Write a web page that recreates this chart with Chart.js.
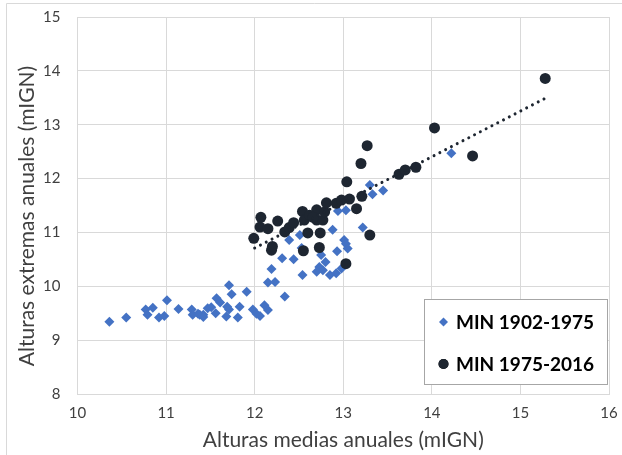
<!DOCTYPE html>
<html>
<head>
<meta charset="utf-8">
<script src="https://cdn.jsdelivr.net/npm/chart.js@4.4.0/dist/chart.umd.min.js"></script>
<style>
  html, body { margin: 0; padding: 0; background: #fff; }
  #wrap { position: relative; width: 622px; height: 455px; }
</style>
</head>
<body>
<div id="wrap"><canvas id="scatterChart"></canvas></div>
<script>
// MIN 1902-1975 (blue diamonds)
const oldX = [10.36, 10.55, 10.77, 10.85, 10.79, 10.92, 10.98, 11.01, 11.14, 11.29,
  11.30, 11.38, 11.42, 11.36, 11.47, 11.51, 11.56, 11.57, 11.61, 11.68,
  11.71, 11.71, 11.74, 11.81, 11.83, 11.91, 11.98, 12.02, 12.06, 12.11,
  12.15, 12.15, 12.19, 12.23, 12.31, 12.34, 12.39, 12.44, 12.51, 12.53,
  12.54, 12.73, 12.70, 12.77, 12.75, 12.80, 12.85, 12.92, 12.93, 12.88,
  12.94, 12.98, 13.01, 13.03, 13.05, 13.03, 13.22, 13.30, 13.33, 13.45,
  14.22, 11.42, 11.69];
const oldY = [9.34, 9.42, 9.57, 9.60, 9.47, 9.42, 9.45, 9.74, 9.58, 9.57,
  9.47, 9.47, 9.47, 9.49, 9.59, 9.61, 9.50, 9.78, 9.70, 9.44,
  9.57, 10.02, 9.85, 9.42, 9.62, 9.90, 9.57, 9.49, 9.45, 9.65,
  9.56, 10.07, 10.32, 10.08, 10.52, 9.81, 10.86, 10.50, 10.95, 10.71,
  10.21, 10.36, 10.27, 10.30, 10.58, 10.45, 10.21, 10.24, 10.65, 11.05,
  11.40, 10.33, 10.86, 10.79, 10.70, 11.41, 11.09, 11.88, 11.71, 11.78,
  12.47, 9.43, 9.62];

// MIN 1975-2016 (dark circles)
const newX = [11.99, 12.06, 12.07, 12.15, 12.19, 12.20, 12.26, 12.34, 12.39, 12.44,
  12.54, 12.56, 12.62, 12.60, 12.55, 12.70, 12.70, 12.77, 12.79, 12.81,
  12.74, 12.73, 12.92, 12.98, 13.04, 13.07, 13.15, 13.21, 13.20, 13.27,
  13.30, 13.03, 13.63, 13.70, 13.82, 14.03, 14.46, 15.28, 12.66];
const newY = [10.89, 11.10, 11.28, 11.07, 10.67, 10.74, 11.21, 11.01, 11.09, 11.18,
  11.39, 11.23, 11.32, 10.99, 10.66, 11.42, 11.23, 11.23, 11.38, 11.55,
  10.99, 10.72, 11.54, 11.60, 11.94, 11.62, 11.44, 11.67, 12.28, 12.61,
  10.95, 10.42, 12.08, 12.16, 12.21, 12.94, 12.42, 13.86, 11.28];

// dotted trend line of the 1975-2016 series, end points
const trendX = [12.0, 15.28];
const trendY = [10.71, 13.49];

const xTicks = [10, 11, 12, 13, 14, 15, 16];
const yTicks = [8, 9, 10, 11, 12, 13, 14, 15];

const seriesNames = ["MIN 1902-1975", "MIN 1975-2016"];
const yTitle = "Alturas extremas anuales (mIGN)";
const blue = "#4472C4";
const dark = "#1E2631";
const gridColor = "#D9D9D9";
const font = "Lato, 'Open Sans', sans-serif";

const toPoints = (xs, ys) => xs.map((x, i) => ({ x: x, y: ys[i] }));

// legend box drawn inside the plot, like the original
const boxLegend = {
  id: "boxLegend",
  afterDraw(chart) {
    const c = chart.ctx;
    c.save();
    c.fillStyle = "#fff";
    c.fillRect(424, 299, 184, 86);
    c.strokeStyle = "#A6A6A6";
    c.lineWidth = 1;
    c.strokeRect(424.5, 299.5, 183, 85);
    const rows = [
      { ds: chart.data.datasets[0], y: 322 },
      { ds: chart.data.datasets[1], y: 364 }
    ];
    rows.forEach(r => {
      Chart.helpers.drawPoint(c, {
        pointStyle: r.ds.pointStyle,
        radius: r.ds.pointStyle === "circle" ? 5 : 4.5,
        borderWidth: 0,
        rotation: 0
      }, 443.5, r.y);
      c.fillStyle = r.ds.backgroundColor;
      c.fill();
      c.fillStyle = "#000";
      c.font = "bold 19px " + font;
      c.textBaseline = "middle";
      c.fillText(r.ds.label, 456, r.y + 1);
    });
    c.restore();
  }
};

// chart border (left/top) and the y title, which sits a bit below the plot centre
const frame = {
  id: "frame",
  beforeDraw(chart) {
    const c = chart.ctx;
    c.save();
    c.strokeStyle = gridColor;
    c.lineWidth = 1;
    c.beginPath();
    c.moveTo(6.5, 460);
    c.lineTo(6.5, 3.5);
    c.lineTo(630, 3.5);
    c.stroke();
    c.translate(27, 216);
    c.rotate(-Math.PI / 2);
    c.fillStyle = "#404040";
    c.font = "21px " + font;
    c.textAlign = "center";
    c.textBaseline = "middle";
    c.fillText(yTitle, 0, 0);
    c.restore();
  }
};

new Chart(document.getElementById("scatterChart"), {
  type: "scatter",
  data: {
    datasets: [{
      label: seriesNames[0],
      data: toPoints(oldX, oldY),
      pointStyle: "rectRot",
      pointRadius: 5,
      backgroundColor: blue,
      borderColor: blue,
      borderWidth: 0,
      order: 2
    }, {
      label: seriesNames[1],
      data: toPoints(newX, newY),
      pointStyle: "circle",
      pointRadius: 5.5,
      backgroundColor: dark,
      borderColor: dark,
      borderWidth: 0,
      order: 1
    }, {
      label: "trend",
      type: "line",
      data: toPoints(trendX, trendY),
      showLine: true,
      pointRadius: 0,
      borderColor: dark,
      borderWidth: 3,
      borderDash: [0.01, 6.5],
      borderCapStyle: "round",
      fill: false,
      order: 0
    }]
  },
  options: {
    responsive: true,
    maintainAspectRatio: false,
    animation: false,
    layout: { padding: { left: 0, right: 13, top: 17, bottom: 0 } },
    plugins: { legend: { display: false }, tooltip: { enabled: false } },
    scales: {
      x: {
        type: "linear",
        min: xTicks[0],
        max: xTicks[xTicks.length - 1],
        afterBuildTicks: s => { s.ticks = xTicks.map(v => ({ value: v })); },
        afterFit: s => { s.height = 61; s.paddingLeft = 0; s.paddingRight = 0; },
        grid: { color: gridColor, drawTicks: false },
        border: { color: gridColor },
        ticks: { color: "#404040", font: { family: font, size: 15 }, padding: 10 },
        title: {
          display: true,
          text: "Alturas medias anuales (mIGN)",
          color: "#404040",
          font: { family: font, size: 21 },
          padding: { top: 2, bottom: 2 }
        }
      },
      y: {
        type: "linear",
        min: yTicks[0],
        max: yTicks[yTicks.length - 1],
        afterBuildTicks: s => { s.ticks = yTicks.map(v => ({ value: v })); },
        afterFit: s => { s.width = 77.5; s.paddingTop = 0; s.paddingBottom = 0; },
        grid: { color: gridColor, drawTicks: false },
        border: { color: gridColor },
        ticks: { color: "#404040", font: { family: font, size: 15 }, padding: 17 }
      }
    }
  },
  plugins: [frame, boxLegend]
});
</script>
</body>
</html>
